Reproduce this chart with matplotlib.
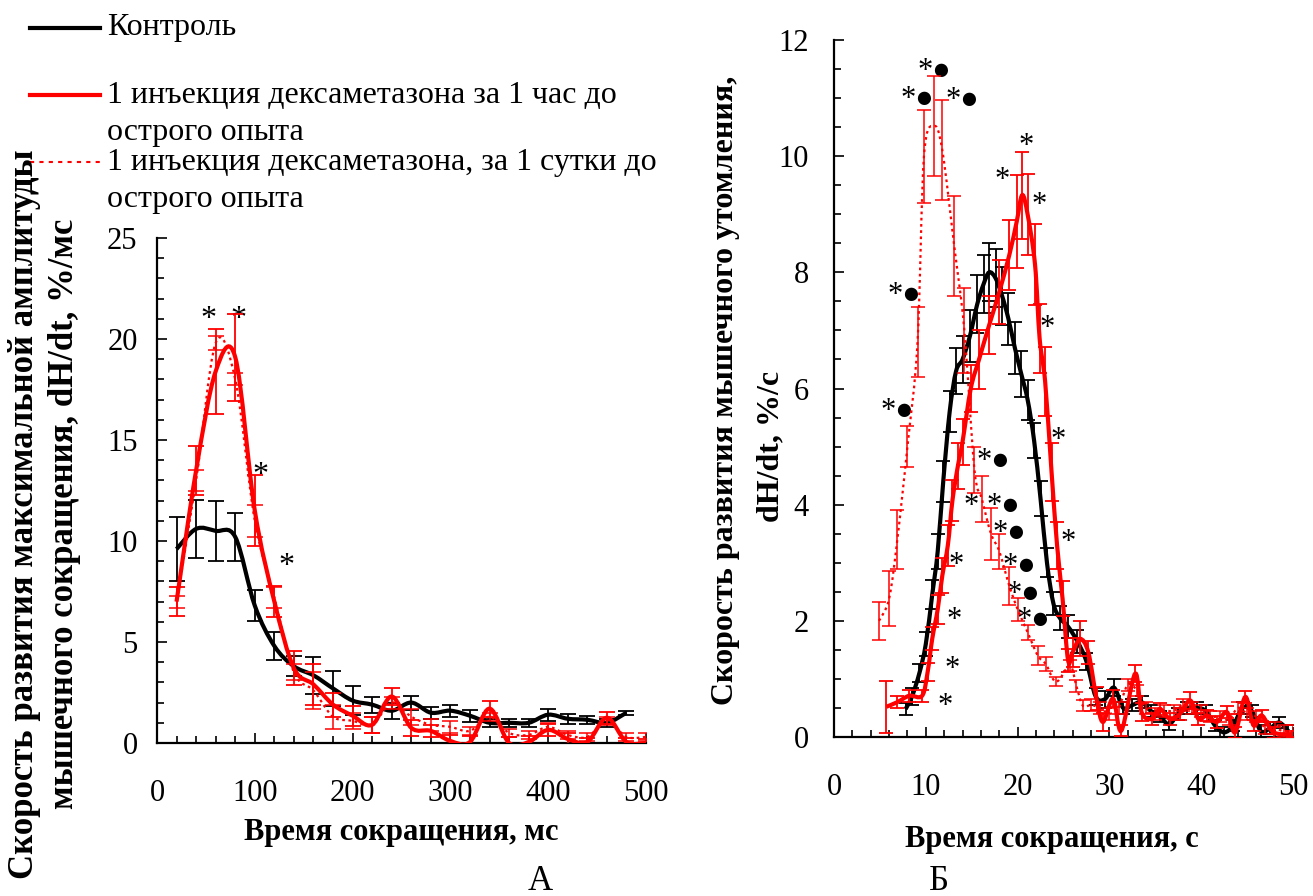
import numpy as np
import matplotlib
matplotlib.use("Agg")
import matplotlib.pyplot as plt
from matplotlib.path import Path
from matplotlib.patches import PathPatch
from matplotlib.lines import Line2D
from matplotlib.ticker import MultipleLocator
from matplotlib.transforms import ScaledTranslation

plt.rcParams['font.family'] = ['Liberation Serif', 'DejaVu Sans']

# ---- panel A: time of contraction, ms ----
a_time = [20, 40, 60, 80, 100, 120, 140, 160, 180, 200, 220, 240, 260, 280,
          300, 320, 340, 360, 380, 400, 420, 440, 460, 480]
a_ctrl = [9.6, 10.6, 10.5, 10.2, 6.8, 4.8, 3.8, 3.35, 2.7, 2.1, 1.9, 1.6,
          2.0, 1.5, 1.6, 1.35, 1.0, 1.0, 1.0, 1.4, 1.2, 1.15, 1.0, 1.5]
a_ctrl_err = [1.6, 1.45, 1.5, 1.2, 0.75, 0.7, 0.5, 0.9, 0.85, 0.7, 0.4, 0.4,
              0.35, 0.3, 0.3, 0.3, 0.2, 0.2, 0.2, 0.3, 0.25, 0.2, 0.2, 0.1]

a_time_dex = [20, 40, 60, 80, 100, 120, 140, 160, 180, 200, 220, 240, 260,
              280, 300, 320, 340, 360, 380, 400, 420, 440, 460, 480, 500]
a_hour = [7.0, 13.5, 18.4, 19.1, 11.5, 7.0, 3.7, 2.9, 1.9, 1.35, 0.9, 2.3,
          0.75, 0.6, 0.1, 0.05, 1.7, 0.0, 0.05, 0.65, 0.2, 0.05, 1.25, 0.05, 0.0]
a_hour_err = [0.7, 1.2, 2.1, 2.15, 1.75, 0.75, 0.85, 1.0, 0.6, 0.5, 0.4, 0.4,
              0.4, 0.3, 0.3, 0.3, 0.4, 0.3, 0.3, 0.3, 0.3, 0.2, 0.3, 0.2, 0.2]
a_day = [7.0, 13.0, 19.8, 18.0, 11.0, 7.2, 3.5, 2.6, 1.3, 1.1, 0.9, 2.0,
         1.3, 0.9, 0.8, 0.6, 1.3, 0.5, 0.4, 0.8, 0.4, 0.3, 1.1, 0.3, 0.3]
a_day_err = [0.3, 0.5, 0.35, 0.3, 0.8, 0.5, 0.4, 0.9, 0.6, 0.4, 0.4, 0.3,
             0.4, 0.3, 0.3, 0.2, 0.2, 0.2, 0.2, 0.2, 0.2, 0.2, 0.2, 0.2, 0.2]

a_star_x = [53, 83, 106, 132]
a_star_y = [21.2, 21.2, 13.5, 9.0]

# ---- panel B: time of contraction, s ----
b_ctrl_t = [7.8, 8.5, 9.3, 10.0, 10.7, 11.3, 11.9, 12.6, 13.3, 14.0,
            14.8, 15.6, 16.3, 16.9, 17.6, 18.3, 19.0, 19.7, 20.4, 21.1,
            21.8, 22.5, 23.2, 23.9, 24.6, 25.5, 26.5, 27.5, 28.5, 29.5,
            30.5, 31.5, 32.5, 33.5, 34.5, 35.5, 36.5, 37.5, 38.5, 39.5,
            40.5, 41.5, 42.5, 43.5, 44.5, 45.5, 46.5, 47.5, 48.5, 49.5]
b_ctrl = [0.48, 0.7, 1.1, 1.6, 2.45, 3.2, 4.4, 5.6, 6.3, 6.5,
          6.9, 7.45, 7.8, 8.0, 7.9, 7.6, 7.2, 6.7, 6.25, 5.8,
          5.1, 4.1, 3.0, 2.3, 2.05, 1.9, 1.65, 1.3, 0.7, 0.65,
          0.85, 0.5, 0.55, 0.6, 0.45, 0.35, 0.22, 0.4, 0.5, 0.5,
          0.45, 0.2, 0.08, 0.2, 0.5, 0.45, 0.1, 0.15, 0.25, 0.1]
b_ctrl_err = [0.1, 0.15, 0.15, 0.2, 0.25, 0.3, 0.35, 0.35, 0.4, 0.4,
              0.45, 0.5, 0.5, 0.5, 0.5, 0.5, 0.45, 0.45, 0.4, 0.35,
              0.3, 0.3, 0.25, 0.2, 0.2, 0.2, 0.2, 0.15, 0.15, 0.15,
              0.15, 0.1, 0.1, 0.1, 0.1, 0.1, 0.1, 0.1, 0.1, 0.1,
              0.1, 0.1, 0.1, 0.1, 0.1, 0.1, 0.1, 0.1, 0.1, 0.1]

b_hour_t = [5.7, 6.9, 8.2, 9.6, 10.2, 10.7, 11.3, 11.8, 12.4, 12.9,
            13.5, 14.0, 14.9, 15.8, 16.9, 18.0, 19.1, 19.9, 20.5, 21.1,
            21.9, 22.4, 23.0, 23.7, 24.3, 24.9, 25.5, 26.0, 26.8, 27.7,
            28.6, 29.3, 30.4, 31.3, 32.8, 33.5, 34.6, 35.5, 36.6, 37.7,
            38.8, 39.7, 40.6, 41.7, 42.8, 43.7, 44.8, 45.7, 46.6, 47.9, 50.0]
b_hour = [0.52, 0.6, 0.71, 0.71, 1.12, 1.69, 2.2, 2.78, 3.3, 4.07,
          4.67, 5.08, 6.0, 6.5, 7.09, 7.66, 8.3, 8.87, 9.33, 8.99,
          8.13, 6.86, 6.12, 4.56, 3.3, 2.38, 1.32, 1.46, 1.69, 1.46,
          0.66, 0.26, 0.66, 0.11, 1.09, 0.43, 0.31, 0.48, 0.31, 0.4,
          0.63, 0.31, 0.37, 0.26, 0.43, 0.08, 0.69, 0.2, 0.37, 0.08, 0.05]
b_hour_err = [0.45, 0.1, 0.1, 0.1, 0.15, 0.2, 0.25, 0.3, 0.35, 0.35,
              0.4, 0.4, 0.4, 0.5, 0.5, 0.55, 0.6, 0.8, 0.75, 0.7,
              0.7, 0.6, 0.6, 0.5, 0.4, 0.3, 0.2, 0.25, 0.3, 0.2,
              0.2, 0.15, 0.15, 0.1, 0.15, 0.15, 0.1, 0.1, 0.1, 0.1,
              0.15, 0.1, 0.1, 0.1, 0.1, 0.1, 0.1, 0.1, 0.1, 0.1, 0.05]

b_day_t = [4.9, 6.0, 6.9, 8.0, 9.1, 9.8, 10.9, 11.8, 13.1, 14.2,
           15.3, 16.1, 17.1, 18.0, 19.1, 20.0, 21.1, 22.2, 23.1, 24.2,
           25.7, 26.4, 27.1, 28, 29, 30, 31, 32, 33, 34,
           35, 36, 37, 38, 39, 40, 41, 42, 43, 44,
           45, 46, 47, 48, 49, 50]
b_day = [2.0, 2.38, 3.4, 5.0, 6.8, 10.0, 10.52, 10.1, 8.45, 7.0,
         4.6, 4.1, 3.5, 3.2, 2.6, 2.2, 1.8, 1.4, 1.25, 0.95,
         1.23, 0.88, 0.54, 0.55, 0.5, 0.4, 0.5, 0.9, 0.8, 0.5,
         0.4, 0.45, 0.45, 0.55, 0.5, 0.45, 0.35, 0.35, 0.3, 0.5,
         0.4, 0.35, 0.15, 0.15, 0.1, 0.1]
b_day_err = [0.33, 0.47, 0.5, 0.35, 0.6, 0.8, 0.86, 0.86, 0.86, 0.73,
             0.4, 0.4, 0.45, 0.3, 0.33, 0.2, 0.13, 0.16, 0.12, 0.08,
             0.1, 0.1, 0.1, 0.1, 0.1, 0.1, 0.1, 0.1, 0.1, 0.1,
             0.1, 0.1, 0.1, 0.1, 0.1, 0.1, 0.1, 0.1, 0.1, 0.1,
             0.1, 0.1, 0.1, 0.1, 0.1, 0.1]

b_mark_x = [10.9, 9.1, 14.0, 20.9, 18.3, 22.4, 7.65, 23.2, 6.9, 24.4,
            17.4, 14.9, 18.4, 19.1, 25.5, 13.3, 20.2, 20.6, 13.1, 21.7,
            12.9, 12.1]
b_mark_y = [11.55, 11.07, 11.05, 10.26, 9.66, 9.24, 7.69, 7.12, 5.69, 5.19,
            4.83, 4.05, 4.05, 3.59, 3.43, 3.04, 3.02, 2.54, 2.1, 2.1,
            1.24, 0.61]
b_mark_txt = ['*●', '*●', '*●', '*', '*', '*', '*●', '*', '*●', '*',
              '*●', '*', '*●', '*●', '*', '*', '*●', '*●', '*', '*●',
              '*', '*']

legend_labels = ['Контроль',
                 '1 инъекция дексаметазона за 1 час до\nострого опыта',
                 '1 инъекция дексаметазона, за 1 сутки до\nострого опыта']

RED = '#ff0000'
W, H = 1313, 896


def smooth_line(ax, x, y, **kw):
    # excel-like smoothed line: catmull-rom through the points
    pts = np.column_stack([x, y]).astype(float)
    n = len(pts)
    verts = [pts[0]]
    codes = [Path.MOVETO]
    for i in range(n - 1):
        p0 = pts[max(i - 1, 0)]
        p1, p2 = pts[i], pts[i + 1]
        p3 = pts[min(i + 2, n - 1)]
        verts += [p1 + (p2 - p0) / 6, p2 - (p3 - p1) / 6, p2]
        codes += [Path.CURVE4] * 3
    ax.add_patch(PathPatch(Path(verts, codes), fill=False, **kw))


def style_axes(ax):
    for side in ['top', 'right']:
        ax.spines[side].set_visible(False)
    for side in ['left', 'bottom']:
        ax.spines[side].set_linewidth(1.6)
    ax.tick_params(which='both', direction='in', width=1.2, labelsize=22)
    ax.tick_params(which='major', length=7)
    ax.tick_params(which='minor', length=5)
    ax.tick_params(axis='x', which='major', pad=26)


fig = plt.figure(figsize=(W / 100, H / 100), dpi=100)
# asterisks sit a few pixels lower than their anchor
star_shift = ScaledTranslation(0, -0.05, fig.dpi_scale_trans)

# panel A
ax_a = fig.add_axes([157 / W, 1 - 743 / H, (646 - 157) / W, (743 - 238) / H])
style_axes(ax_a)
ax_a.tick_params(axis='y', which='major', pad=14)
ax_a.set_xlim(0, 500)
ax_a.set_ylim(0, 25)
ax_a.xaxis.set_major_locator(MultipleLocator(100))
ax_a.xaxis.set_minor_locator(MultipleLocator(20))
ax_a.yaxis.set_major_locator(MultipleLocator(5))
ax_a.yaxis.set_minor_locator(MultipleLocator(1))

ax_a.errorbar(a_time, a_ctrl, yerr=a_ctrl_err, fmt='none', ecolor='black',
              elinewidth=1.3, capsize=6, capthick=1.3, zorder=2)
smooth_line(ax_a, a_time, a_ctrl, ec='black', lw=3, zorder=3)
ax_a.errorbar(a_time_dex, a_day, yerr=a_day_err, fmt='none', ecolor=RED,
              elinewidth=1.1, capsize=6, capthick=1.1, zorder=4)
smooth_line(ax_a, a_time_dex, a_day, ec=RED, lw=1.6, ls=(0, (1.2, 1.6)), zorder=4)
ax_a.errorbar(a_time_dex, a_hour, yerr=a_hour_err, fmt='none', ecolor=RED,
              elinewidth=1.3, capsize=6, capthick=1.3, zorder=5)
smooth_line(ax_a, a_time_dex, a_hour, ec=RED, lw=3, zorder=6)

for sx, sy in zip(a_star_x, a_star_y):
    ax_a.text(sx, sy, '*', fontsize=23, ha='center', va='center',
              transform=ax_a.transData + star_shift)

# panel B
ax_b = fig.add_axes([834 / W, 1 - 737 / H, (1293 - 834) / W, (737 - 40) / H])
style_axes(ax_b)
ax_b.tick_params(axis='y', which='major', pad=18)
ax_b.set_xlim(0, 50)
ax_b.set_ylim(0, 12)
ax_b.xaxis.set_major_locator(MultipleLocator(10))
ax_b.xaxis.set_minor_locator(MultipleLocator(2))
ax_b.yaxis.set_major_locator(MultipleLocator(2))
ax_b.yaxis.set_minor_locator(MultipleLocator(0.5))

ax_b.errorbar(b_ctrl_t, b_ctrl, yerr=b_ctrl_err, fmt='none', ecolor='black',
              elinewidth=1.3, capsize=5, capthick=1.3, zorder=2)
smooth_line(ax_b, b_ctrl_t, b_ctrl, ec='black', lw=3, zorder=3)
ax_b.errorbar(b_day_t, b_day, yerr=b_day_err, fmt='none', ecolor=RED,
              elinewidth=1.1, capsize=5, capthick=1.1, zorder=4)
smooth_line(ax_b, b_day_t, b_day, ec=RED, lw=1.6, ls=(0, (1.2, 1.6)), zorder=4)
ax_b.errorbar(b_hour_t, b_hour, yerr=b_hour_err, fmt='none', ecolor=RED,
              elinewidth=1.3, capsize=5, capthick=1.3, zorder=5)
smooth_line(ax_b, b_hour_t, b_hour, ec=RED, lw=3, zorder=6)

for mx, my, mt in zip(b_mark_x, b_mark_y, b_mark_txt):
    ax_b.text(mx, my, mt, fontsize=22, ha='center', va='center',
              transform=ax_b.transData + star_shift)

# axis titles
fig.text(45 / W, 1 - 514 / H,
         'Скорость развития максимальной амплитуды\nмышечного сокращения, dH/dt, %/мс',
         rotation=90, ha='center', va='center', fontsize=25, fontweight='bold',
         linespacing=1.28, multialignment='center')
fig.text(726 / W, 1 - 390 / H, 'Скорость развития мышечного утомления,',
         rotation=90, ha='center', va='center', fontsize=23, fontweight='bold')
fig.text(771 / W, 1 - 446 / H, 'dH/dt, %/с',
         rotation=90, ha='center', va='center', fontsize=23, fontweight='bold')
fig.text(401 / W, 1 - 840 / H, 'Время сокращения, мс', ha='center',
         va='baseline', fontsize=22, fontweight='bold')
fig.text(1052 / W, 1 - 847 / H, 'Время сокращения, с', ha='center',
         va='baseline', fontsize=22, fontweight='bold')
fig.text(540 / W, 1 - 890 / H, 'А', ha='center', va='baseline', fontsize=25)
fig.text(939 / W, 1 - 890 / H, 'Б', ha='center', va='baseline', fontsize=25)

# legend drawn by hand in figure pixels
fig.add_artist(Line2D([30 / W, 100 / W], [1 - 28 / H, 1 - 28 / H],
                      color='black', lw=3, transform=fig.transFigure))
fig.add_artist(Line2D([30 / W, 100 / W], [1 - 95 / H, 1 - 95 / H],
                      color=RED, lw=3, transform=fig.transFigure))
fig.add_artist(Line2D([30 / W, 100 / W], [1 - 162 / H, 1 - 162 / H],
                      color=RED, lw=1.5, ls=(0, (2, 2.5)),
                      transform=fig.transFigure))
fig.text(107 / W, 1 - 28 / H, legend_labels[0], ha='left', va='center', fontsize=23)
fig.text(107 / W, 1 - 114 / H, legend_labels[1], ha='left', va='center',
         fontsize=23, linespacing=1.36)
fig.text(107 / W, 1 - 181 / H, legend_labels[2], ha='left', va='center',
         fontsize=23, linespacing=1.36)

fig.savefig('out.png', dpi=100)
